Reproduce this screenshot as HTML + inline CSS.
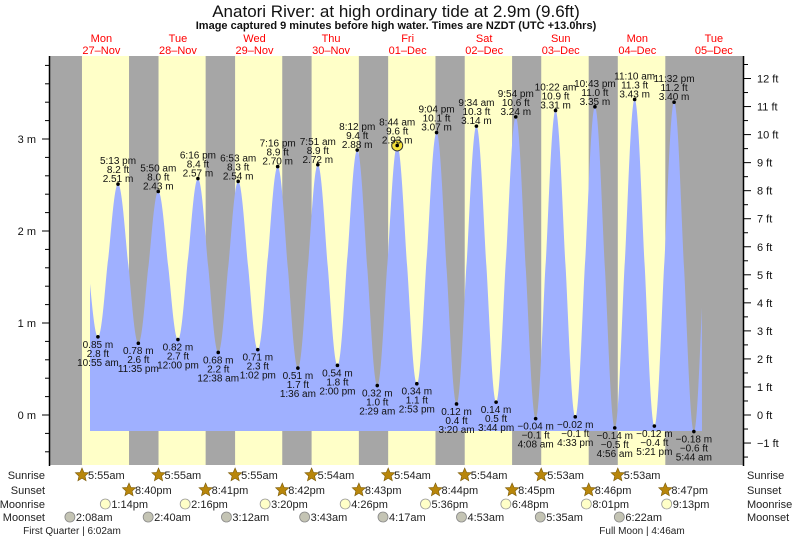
<!DOCTYPE html>
<html><head><meta charset="utf-8"><style>
body{margin:0;background:#fff;}
svg{display:block;font-family:"Liberation Sans",sans-serif;}
</style></head><body>
<svg id="s" width="793" height="539" xmlns="http://www.w3.org/2000/svg">
<rect x="0" y="0" width="793" height="539" fill="#fff"/>
<g id="bg"></g>
<path id="tide" fill="#9fb0ff"/>
<g id="lab" font-size="10" fill="#111" text-anchor="middle"></g>
<g id="axes"></g>
<text x="396" y="17" font-size="17" text-anchor="middle" fill="#111">Anatori River: at high  ordinary tide at 2.9m (9.6ft)</text>
<text x="396" y="29" font-size="11" font-weight="bold" text-anchor="middle" fill="#111">Image captured 9 minutes before high water. Times are NZDT (UTC +13.0hrs)</text>
<g id="days" font-size="11" fill="#f00" text-anchor="middle"></g>
<g id="bot" font-size="11" fill="#222"></g>
</svg>
<script>
var NS="http://www.w3.org/2000/svg";
function X(t){return 63.1+3.19*t;}
function Y(m){return 415-92*m;}
function el(p,tag,a,txt){var e=document.createElementNS(NS,tag);for(var k in a)e.setAttribute(k,a[k]);if(txt!=null)e.textContent=txt;p.appendChild(e);return e;}
var bg=document.getElementById('bg');
el(bg,'rect',{x:50,y:56,width:693,height:409,fill:'#a6a6a6'});
var sr=[5+55/60,5+55/60,5+55/60,5+54/60,5+54/60,5+54/60,5+53/60,5+53/60];
var ss=[20+40/60,20+41/60,20+42/60,20+43/60,20+44/60,20+45/60,20+46/60,20+47/60];
for(var d=0;d<8;d++){el(bg,'rect',{x:X(24*d+sr[d]),y:56,width:X(24*d+ss[d])-X(24*d+sr[d]),height:409,fill:'#ffffc8'});}
function hm(d,h,m,pm){h=h%12;if(pm)h+=12;return 24*d+h+m/60;}
var ex=[[4.6,2.45],
[hm(0,10,55,0),0.85,'10:55 am','2.8 ft'],[hm(0,5,13,1),2.51,'5:13 pm','8.2 ft'],
[hm(0,11,35,1),0.78,'11:35 pm','2.6 ft'],[hm(1,5,50,0),2.43,'5:50 am','8.0 ft'],
[hm(1,12,0,1),0.82,'12:00 pm','2.7 ft'],[hm(1,6,16,1),2.57,'6:16 pm','8.4 ft'],
[hm(2,12,38,0),0.68,'12:38 am','2.2 ft'],[hm(2,6,53,0),2.54,'6:53 am','8.3 ft'],
[hm(2,1,2,1),0.71,'1:02 pm','2.3 ft'],[hm(2,7,16,1),2.70,'7:16 pm','8.9 ft'],
[hm(3,1,36,0),0.51,'1:36 am','1.7 ft'],[hm(3,7,51,0),2.72,'7:51 am','8.9 ft'],
[hm(3,2,0,1),0.54,'2:00 pm','1.8 ft'],[hm(3,8,12,1),2.88,'8:12 pm','9.4 ft'],
[hm(4,2,29,0),0.32,'2:29 am','1.0 ft'],[hm(4,8,44,0),2.93,'8:44 am','9.6 ft'],
[hm(4,2,53,1),0.34,'2:53 pm','1.1 ft'],[hm(4,9,4,1),3.07,'9:04 pm','10.1 ft'],
[hm(5,3,20,0),0.12,'3:20 am','0.4 ft'],[hm(5,9,34,0),3.14,'9:34 am','10.3 ft'],
[hm(5,3,44,1),0.14,'3:44 pm','0.5 ft'],[hm(5,9,54,1),3.24,'9:54 pm','10.6 ft'],
[hm(6,4,8,0),-0.04,'4:08 am','\u22120.1 ft'],[hm(6,10,22,0),3.31,'10:22 am','10.9 ft'],
[hm(6,4,33,1),-0.02,'4:33 pm','\u22120.1 ft'],[hm(6,10,43,1),3.35,'10:43 pm','11.0 ft'],
[hm(7,4,56,0),-0.14,'4:56 am','\u22120.5 ft'],[hm(7,11,10,0),3.43,'11:10 am','11.3 ft'],
[hm(7,5,21,1),-0.12,'5:21 pm','\u22120.4 ft'],[hm(7,11,32,1),3.40,'11:32 pm','11.2 ft'],
[hm(8,5,44,0),-0.18,'5:44 am','\u22120.6 ft'],[hm(8,11,55,0),3.4]];
function H(t){for(var i=0;i<ex.length-1;i++){var a=ex[i],b=ex[i+1];if(t>=a[0]&&t<=b[0]){var f=(t-a[0])/(b[0]-a[0]);var c=Math.cos(Math.PI*f);var s=(c<0?-1:1)*Math.pow(Math.abs(c),1.15);return (a[1]+b[1])/2+(a[1]-b[1])/2*s;}}return 1;}
var t0=(90-63.1)/3.19,t1=(702-63.1)/3.19;
var p='M90,431';for(var t=t0;t<=t1;t+=0.05){p+=' L'+X(t).toFixed(2)+','+Y(H(t)).toFixed(2);}
p+=' L702,431 Z';document.getElementById('tide').setAttribute('d',p);
var lab=document.getElementById('lab');
for(var i=1;i<ex.length-1;i++){var e=ex[i],x=X(e[0]),y=Y(e[1]);var hi=e[1]>1.5;
var ms=(e[1]<0?'\u2212'+Math.abs(e[1]).toFixed(2):e[1].toFixed(2))+' m';
if(i==16){el(lab,'circle',{cx:x,cy:y,r:5.5,fill:'#f5e23a',stroke:'#333','stroke-width':1});}
el(lab,'circle',{cx:x,cy:y,r:1.8,fill:'#000'});
if(hi){el(lab,'text',{x:x,y:y-20},e[2]);el(lab,'text',{x:x,y:y-11},e[3]);el(lab,'text',{x:x,y:y-2},ms);}
else{el(lab,'text',{x:x,y:y+11},ms);el(lab,'text',{x:x,y:y+20},e[3]);el(lab,'text',{x:x,y:y+29},e[2]);}}
var ax=document.getElementById('axes');
el(ax,'line',{x1:49.5,y1:56,x2:49.5,y2:466,stroke:'#000','stroke-width':1.5});
el(ax,'line',{x1:743.5,y1:56,x2:743.5,y2:466,stroke:'#000','stroke-width':1.5});
for(var m=-0.4;m<=3.81;m+=0.2){var y=Y(m);var maj=Math.abs(m-Math.round(m))<0.01;el(ax,'line',{x1:maj?42:45,y1:y,x2:49,y2:y,stroke:'#000'});
if(maj)el(ax,'text',{x:36,y:y+4,'font-size':11,'text-anchor':'end',fill:'#111'},Math.round(m)+' m');}
for(var f=-1.5;f<=12.6;f+=0.5){var y=415-28.04*f;if(y<57||y>465)continue;var maj=Math.abs(f-Math.round(f))<0.01;el(ax,'line',{x1:744,y1:y,x2:maj?751:748,y2:y,stroke:'#000'});
if(maj)el(ax,'text',{x:757,y:y+4,'font-size':11,fill:'#111'},(f<0?'\u2212'+Math.abs(f):f)+' ft');}
var dn=['Mon','Tue','Wed','Thu','Fri','Sat','Sun','Mon','Tue'],dd=['27\u2013Nov','28\u2013Nov','29\u2013Nov','30\u2013Nov','01\u2013Dec','02\u2013Dec','03\u2013Dec','04\u2013Dec','05\u2013Dec'];
var dg=document.getElementById('days');
for(var d=0;d<9;d++){var x=X(24*d+12);el(dg,'text',{x:x,y:42},dn[d]);el(dg,'text',{x:x,y:54},dd[d]);}
var bot=document.getElementById('bot');
var rows=[['Sunrise',479],['Sunset',494],['Moonrise',508],['Moonset',521]];
rows.forEach(function(r){el(bot,'text',{x:45,y:r[1],'text-anchor':'end'},r[0]);el(bot,'text',{x:747,y:r[1]},r[0]);});
function star(cx,cy){var pts=[];for(var k=0;k<10;k++){var a=-Math.PI/2+k*Math.PI/5,rr=k%2?3.2:7;pts.push((cx+rr*Math.cos(a)).toFixed(1)+','+(cy+rr*Math.sin(a)).toFixed(1));}el(bot,'polygon',{points:pts.join(' '),fill:'#b8860b',stroke:'#7a5a08','stroke-width':0.6});}
function fmt(h){var H=Math.floor(h),M=Math.round((h-H)*60);var ap=H>=12?'pm':'am';var h12=H%12;if(h12==0)h12=12;return h12+':'+(M<10?'0':'')+M+ap;}
for(var d=0;d<8;d++){var x=X(24*d+sr[d]);star(x,475);el(bot,'text',{x:x+6,y:479},fmt(sr[d]));
x=X(24*d+ss[d]);star(x,490);el(bot,'text',{x:x+6,y:494},fmt(ss[d]));}
var mr=[13+14/60,14+16/60,15+20/60,16+26/60,17+36/60,18+48/60,20+1/60,21+13/60];
var ms2=[2+8/60,2+40/60,3+12/60,3+43/60,4+17/60,4+53/60,5+35/60,6+22/60];
for(var d=0;d<8;d++){var x=X(24*d+mr[d]);el(bot,'circle',{cx:x,cy:504,r:5,fill:'#ffffc8',stroke:'#999','stroke-width':0.8});el(bot,'text',{x:x+6,y:508},fmt(mr[d]));
x=X(24*d+ms2[d]);el(bot,'circle',{cx:x,cy:517,r:5,fill:'#c4c4b4',stroke:'#888','stroke-width':0.8});el(bot,'text',{x:x+6,y:521},fmt(ms2[d]));}
el(bot,'text',{x:72,y:534,'font-size':10,'text-anchor':'middle'},'First Quarter | 6:02am');
el(bot,'text',{x:642,y:534,'font-size':10,'text-anchor':'middle'},'Full Moon | 4:46am');
</script>
</body></html>
